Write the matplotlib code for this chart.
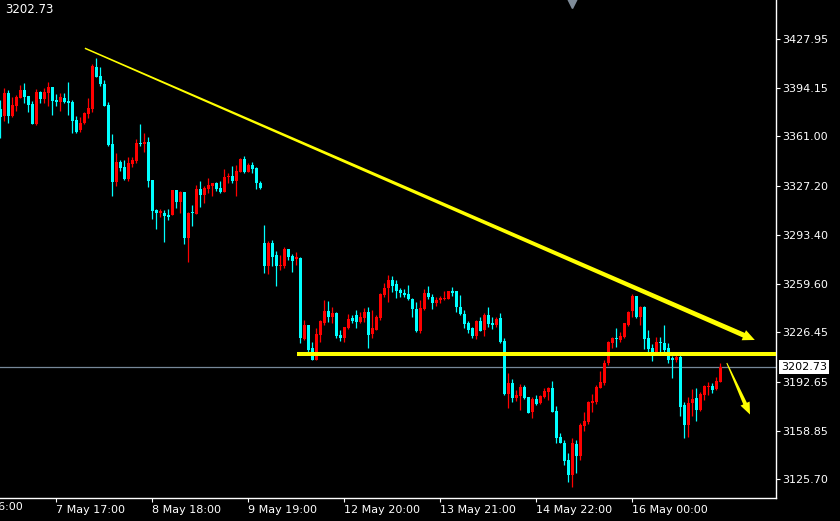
import numpy as np
import matplotlib
matplotlib.use("Agg")
import matplotlib.pyplot as plt
from matplotlib.patches import Polygon

# ── Data (H1 candles) ────────────────────────────────────────────────────────

OPEN = [
    3379.6, 3375.1, 3391.1, 3375.3, 3381.9, 3387.7, 3392.9, 3388.8, 3383.3, 3369.6,
    3391.8, 3386.7, 3391.1, 3395.2, 3386.1, 3384.9, 3387.7, 3385.6, 3384.9, 3372.3,
    3365.4, 3370.0, 3376.4, 3379.6, 3409.0, 3402.5, 3397.0, 3382.6, 3355.6, 3330.0,
    3343.7, 3340.3, 3331.8, 3342.1, 3344.2, 3356.5, 3355.8, 3357.0, 3331.1, 3310.5,
    3308.2, 3308.7, 3307.3, 3307.1, 3324.2, 3316.2, 3323.1, 3291.5, 3308.7, 3307.7,
    3324.7, 3320.8, 3324.9, 3327.2, 3329.3, 3325.8, 3323.1, 3333.4, 3333.8, 3330.6,
    3336.8, 3345.5, 3336.8, 3341.4, 3339.1, 3329.3, 3287.6, 3272.3, 3287.6, 3279.6,
    3272.3, 3272.3, 3283.5, 3278.9, 3276.8, 3277.7, 3221.9, 3231.5, 3215.5, 3207.5,
    3224.6, 3232.7, 3241.1, 3236.8, 3240.0, 3224.6, 3222.8, 3229.2, 3236.1, 3238.4,
    3233.3, 3236.5, 3240.7, 3225.3, 3228.1, 3236.1, 3252.1, 3256.7, 3262.4, 3259.7,
    3255.5, 3253.7, 3252.8, 3249.4, 3242.3, 3227.4, 3242.3, 3253.3, 3251.0, 3246.4,
    3248.7, 3249.4, 3249.4, 3254.9, 3254.9, 3243.6, 3239.1, 3233.1, 3229.7, 3224.2,
    3234.3, 3228.1, 3238.4, 3233.1, 3231.5, 3236.1, 3220.5, 3183.9, 3191.9, 3181.1,
    3182.7, 3189.1, 3182.3, 3172.0, 3180.7, 3177.7, 3182.3, 3185.7, 3188.0, 3172.4,
    3154.8, 3150.7, 3138.8, 3128.5, 3149.8, 3141.5, 3162.4, 3165.1, 3178.2, 3178.8,
    3188.5, 3191.9, 3205.2, 3219.4, 3222.8, 3221.2, 3223.5, 3231.5, 3241.1, 3251.7,
    3237.2, 3243.6, 3222.8, 3215.9, 3211.6, 3220.1, 3219.4, 3215.9, 3208.6, 3207.5,
    3209.8, 3176.6, 3162.8, 3177.7, 3181.6, 3173.1, 3183.4, 3188.7, 3189.6, 3187.3,
    3192.6,
]
HIGH = [
    3386.1, 3394.5, 3392.9, 3388.3, 3389.5, 3396.4, 3398.0, 3388.8, 3385.6, 3393.6,
    3392.5, 3394.5, 3398.7, 3395.2, 3390.2, 3390.6, 3390.6, 3398.7, 3386.1, 3375.1,
    3374.6, 3378.0, 3387.7, 3410.6, 3415.1, 3409.0, 3399.8, 3384.9, 3362.7, 3349.9,
    3344.8, 3344.8, 3346.7, 3346.7, 3359.0, 3369.6, 3363.6, 3360.4, 3331.1, 3311.4,
    3311.2, 3310.5, 3311.2, 3324.2, 3324.2, 3323.8, 3323.1, 3309.3, 3313.9, 3327.7,
    3330.4, 3327.0, 3332.7, 3329.3, 3330.0, 3330.4, 3338.7, 3336.1, 3340.7, 3341.4,
    3346.4, 3347.8, 3342.5, 3343.2, 3339.8, 3330.4, 3300.2, 3289.4, 3289.9, 3282.3,
    3279.6, 3284.8, 3283.5, 3280.0, 3281.4, 3278.4, 3234.9, 3231.5, 3220.1, 3229.2,
    3234.9, 3248.7, 3248.0, 3244.1, 3240.7, 3228.1, 3229.9, 3239.1, 3238.4, 3241.8,
    3240.7, 3243.0, 3244.1, 3241.8, 3238.4, 3253.3, 3260.1, 3265.9, 3265.2, 3262.4,
    3256.7, 3256.2, 3259.0, 3250.3, 3247.5, 3248.7, 3256.2, 3258.3, 3252.8, 3251.0,
    3251.7, 3255.1, 3254.9, 3257.4, 3254.9, 3252.1, 3241.8, 3234.3, 3230.4, 3234.9,
    3237.2, 3239.5, 3243.6, 3236.8, 3236.8, 3239.5, 3222.8, 3198.3, 3194.4, 3186.9,
    3191.0, 3190.3, 3182.3, 3182.3, 3183.4, 3183.4, 3188.0, 3188.7, 3193.0, 3175.9,
    3157.1, 3152.5, 3143.3, 3153.7, 3152.5, 3164.4, 3172.0, 3179.5, 3183.9, 3190.3,
    3200.1, 3207.5, 3220.5, 3223.5, 3229.2, 3226.9, 3233.1, 3241.1, 3252.8, 3251.7,
    3244.6, 3244.6, 3228.1, 3218.2, 3223.0, 3223.0, 3231.5, 3218.9, 3210.2, 3213.2,
    3210.9, 3178.8, 3182.3, 3187.3, 3188.5, 3185.7, 3190.3, 3192.1, 3191.4, 3195.6,
    3205.2,
]
LOW = [
    3360.2, 3371.9, 3370.0, 3374.6, 3378.5, 3387.7, 3383.8, 3378.0, 3369.6, 3368.9,
    3383.8, 3384.2, 3381.9, 3375.8, 3382.2, 3378.5, 3383.8, 3375.8, 3363.6, 3363.6,
    3364.3, 3369.6, 3373.9, 3378.0, 3402.1, 3395.9, 3382.2, 3354.7, 3320.3, 3327.2,
    3337.5, 3331.1, 3330.6, 3339.8, 3343.0, 3354.5, 3350.6, 3326.5, 3304.3, 3297.6,
    3305.5, 3288.7, 3303.6, 3307.1, 3312.1, 3308.7, 3286.9, 3275.0, 3299.7, 3307.7,
    3312.8, 3315.5, 3321.9, 3320.3, 3323.8, 3321.9, 3323.1, 3329.3, 3328.8, 3320.3,
    3336.4, 3336.1, 3336.4, 3336.1, 3324.9, 3324.9, 3267.0, 3266.3, 3272.0, 3258.5,
    3269.3, 3270.4, 3276.1, 3268.1, 3272.7, 3218.9, 3221.2, 3212.0, 3207.5, 3207.5,
    3220.1, 3231.5, 3233.8, 3232.7, 3222.8, 3220.5, 3220.1, 3228.8, 3232.7, 3229.7,
    3232.7, 3233.8, 3215.9, 3222.3, 3228.1, 3234.9, 3250.5, 3247.5, 3254.4, 3250.3,
    3250.5, 3251.0, 3248.7, 3237.2, 3226.9, 3225.8, 3241.8, 3249.1, 3242.3, 3244.8,
    3246.4, 3248.7, 3249.4, 3251.4, 3240.7, 3238.4, 3229.2, 3226.2, 3222.8, 3221.9,
    3227.6, 3224.2, 3229.9, 3228.5, 3229.9, 3218.9, 3183.4, 3174.7, 3178.8, 3179.3,
    3173.1, 3180.7, 3171.3, 3167.9, 3176.6, 3177.2, 3181.1, 3180.0, 3171.5, 3150.2,
    3150.2, 3135.3, 3123.9, 3120.5, 3130.1, 3138.8, 3158.7, 3163.5, 3172.0, 3177.2,
    3188.0, 3190.3, 3204.0, 3215.5, 3216.6, 3220.1, 3222.3, 3230.8, 3237.2, 3236.5,
    3231.5, 3215.0, 3212.7, 3206.8, 3211.6, 3212.0, 3212.7, 3205.6, 3195.3, 3206.3,
    3169.0, 3154.1, 3154.8, 3169.0, 3165.8, 3172.7, 3180.0, 3183.4, 3184.6, 3186.9,
    3192.1,
]
CLOSE = [
    3374.6, 3391.1, 3375.3, 3382.6, 3388.3, 3392.9, 3388.3, 3382.6, 3369.6, 3391.8,
    3386.7, 3391.8, 3395.2, 3385.6, 3384.7, 3387.9, 3384.9, 3384.2, 3371.9, 3364.3,
    3370.5, 3376.9, 3380.8, 3409.6, 3402.1, 3397.0, 3382.2, 3355.1, 3330.0, 3343.7,
    3339.6, 3331.8, 3342.6, 3344.8, 3356.8, 3355.6, 3357.2, 3330.6, 3310.0, 3308.2,
    3309.8, 3306.4, 3305.5, 3324.2, 3316.2, 3323.1, 3291.5, 3308.7, 3308.2, 3324.7,
    3320.8, 3325.8, 3327.7, 3329.3, 3324.9, 3323.1, 3333.4, 3334.1, 3330.6, 3337.3,
    3345.5, 3336.8, 3341.4, 3338.7, 3328.8, 3325.8, 3272.3, 3287.6, 3278.4, 3272.0,
    3272.7, 3283.5, 3278.4, 3275.7, 3278.0, 3222.8, 3231.5, 3214.3, 3207.5, 3225.3,
    3234.3, 3241.1, 3237.2, 3240.0, 3223.9, 3222.3, 3229.9, 3235.4, 3234.3, 3233.8,
    3237.2, 3240.7, 3224.6, 3229.7, 3237.2, 3252.8, 3257.1, 3262.4, 3258.5, 3255.1,
    3253.3, 3252.1, 3249.1, 3242.3, 3227.4, 3243.0, 3253.7, 3251.0, 3246.8, 3248.7,
    3250.3, 3250.3, 3254.9, 3253.7, 3243.6, 3238.8, 3232.2, 3228.1, 3223.9, 3234.3,
    3227.6, 3238.4, 3232.2, 3231.7, 3235.6, 3219.6, 3183.9, 3191.9, 3181.6, 3183.4,
    3189.1, 3181.6, 3171.3, 3180.7, 3177.2, 3183.0, 3186.4, 3188.0, 3171.5, 3154.1,
    3150.2, 3138.1, 3128.5, 3150.2, 3141.5, 3162.8, 3165.6, 3178.8, 3179.3, 3189.1,
    3192.6, 3205.6, 3220.1, 3222.8, 3221.7, 3224.2, 3232.6, 3240.7, 3251.7, 3236.8,
    3244.1, 3221.9, 3215.0, 3212.0, 3220.1, 3218.9, 3214.3, 3207.5, 3207.5, 3209.8,
    3175.4, 3162.8, 3178.2, 3180.7, 3173.1, 3184.1, 3189.6, 3189.6, 3186.9, 3193.0,
    3202.73,
]

PRICE_TICKS = [3427.95, 3394.15, 3361.00, 3327.20, 3293.40, 3259.60, 3226.45, 3192.65, 3158.85, 3125.70]
TIME_TICKS = [-11.75, 14, 38, 62, 86, 110, 134, 158]
TIME_LABELS = ["6 May 16:00", "7 May 17:00", "8 May 18:00", "9 May 19:00",
               "12 May 20:00", "13 May 21:00", "14 May 22:00", "16 May 00:00"]

LAST_PRICE = 3202.73
SUPPORT = 3211.6           # horizontal yellow line
SUPPORT_FROM = 74.1        # bar index where it starts
TREND = [(21.1, 3421.6), (188.6, 3221.2)]   # drawn trend arrow (bar, price)
DOWN_ARROW = [(181.6, 3205.4), (187.4, 3170.0)]

XLIM = (-0.125, 193.9)
YLIM = (3112.66, 3454.74)

# ── Plot ──────────────────────────────────────────────────────────────────────

UP = "#ff0000"
DOWN = "#00ffff"
YELLOW = "#ffff00"

plt.rcParams["font.family"] = ["DejaVu Sans"]

fig = plt.figure(figsize=(8.4, 5.21), dpi=100, facecolor="black")
ax = fig.add_axes([0, 23 / 521, 776 / 840, 498 / 521], facecolor="black")

o = np.array(OPEN)
h = np.array(HIGH)
l = np.array(LOW)
c = np.array(CLOSE)
x = np.arange(len(o))
cols = np.where(c >= o, UP, DOWN)

# last price line (behind candles)
ax.axhline(LAST_PRICE, color="#778899", lw=0.9, zorder=1)

ax.vlines(x, l, h, colors=cols, lw=0.9, zorder=2)
body_lo = np.minimum(o, c)
body_h = np.maximum(np.abs(c - o), 0.7)
ax.bar(x, body_h, bottom=body_lo, width=0.75, color=cols, linewidth=0, zorder=3)

ax.set_xlim(*XLIM)
ax.set_ylim(*YLIM)

# support line
ax.plot([SUPPORT_FROM, XLIM[1]], [SUPPORT, SUPPORT], color=YELLOW, lw=2.9,
        solid_capstyle="butt", zorder=4)


def tapered_arrow(p0, p1, w0, w1, head_len, head_w):
    """Yellow arrow that widens from p0 to p1; widths in pixels."""
    fig.canvas.draw()
    a = ax.transData.transform(p0)
    b = ax.transData.transform(p1)
    d = (b - a) / np.hypot(*(b - a))
    n = np.array([-d[1], d[0]])
    base = b - d * head_len
    pts = [a + n * w0 / 2, base + n * w1 / 2, base + n * head_w / 2, b,
           base - n * head_w / 2, base - n * w1 / 2, a - n * w0 / 2]
    pts = ax.transData.inverted().transform(np.array(pts))
    ax.add_patch(Polygon(pts, closed=True, facecolor=YELLOW, edgecolor="none",
                         zorder=5, clip_on=False))


tapered_arrow(TREND[0], TREND[1], 1.5, 5.0, 12, 11)
tapered_arrow(DOWN_ARROW[0], DOWN_ARROW[1], 1.0, 4.0, 12, 10)

# axes styling
for side in ("left", "top"):
    ax.spines[side].set_visible(False)
for side in ("right", "bottom"):
    ax.spines[side].set_color("white")
    ax.spines[side].set_linewidth(1.0)

ax.yaxis.tick_right()
ax.set_yticks(PRICE_TICKS)
ax.set_yticklabels([f"{p:.2f}" for p in PRICE_TICKS])
ax.tick_params(axis="y", colors="white", length=3, width=0.8, pad=1.5, labelsize=8)

ax.set_xticks(TIME_TICKS[1:])
ax.set_xticklabels(TIME_LABELS[1:], ha="left")
ax.tick_params(axis="x", colors="white", length=3, width=0.8, pad=2, labelsize=8)
# first label is mostly off screen on the left, as in the terminal window
ax.text(TIME_TICKS[0], -0.0085, TIME_LABELS[0], color="white", fontsize=8,
        ha="left", va="top", transform=ax.get_xaxis_transform(), clip_on=False)

# last price tag on the price scale
ax.annotate(f"{LAST_PRICE:.2f}", xy=(1.0, LAST_PRICE),
            xycoords=("axes fraction", "data"), xytext=(3.5, 0),
            textcoords="offset points", va="center", ha="left", fontsize=8,
            color="black", annotation_clip=False,
            bbox=dict(boxstyle="square,pad=0.15", fc="white", ec="none"))

# chart header value and shift marker
fig.text(5 / 840, 1 - 9.5 / 521, f"{LAST_PRICE:.2f}", color="white", fontsize=8.5,
         ha="left", va="center")
ax.plot([572 / 776], [1 - 2.5 / 498], marker="v", markersize=7, color="#7f8c99",
        transform=ax.transAxes, clip_on=False, zorder=6)

fig.savefig("out.png", dpi=100, facecolor="black")
